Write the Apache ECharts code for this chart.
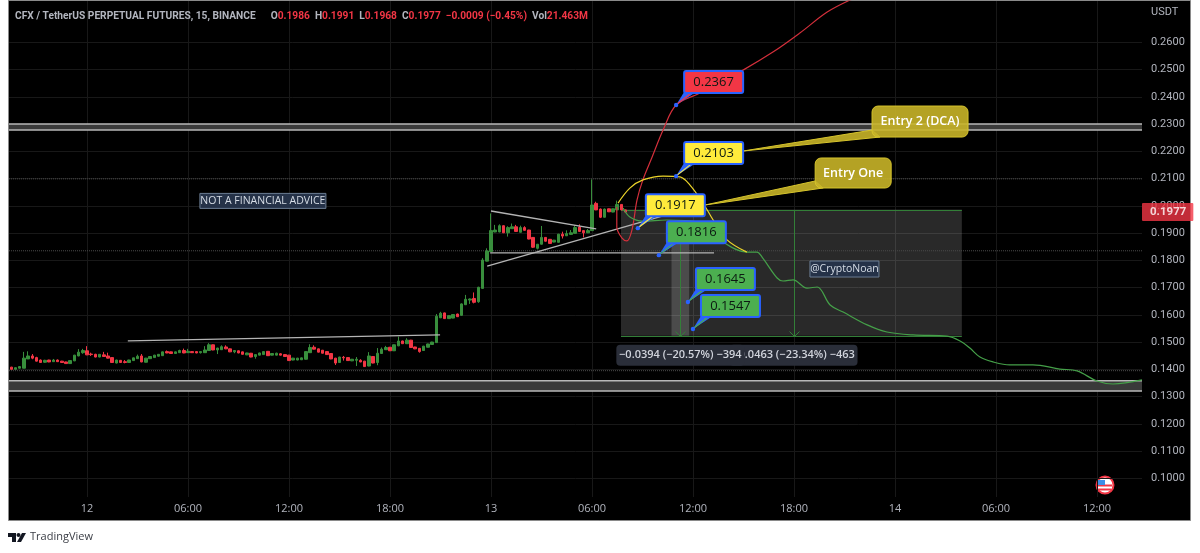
<!DOCTYPE html>
<html><head><meta charset="utf-8">
<style>html,body{margin:0;padding:0;background:#fff}#c{width:1200px;height:553px}</style>
<script src="https://cdn.jsdelivr.net/npm/echarts@6/dist/echarts.min.js"></script>
</head><body><div id="c"></div>
<script>
// x values are 15-minute bars counted from 12th 00:00
const firstBar = -18;
// [open, close, low, high]
const candles = [
[.1408,.1400,.1400,.1409],[.1400,.1406,.1400,.1407],[.1404,.1410,.1403,.1412],[.1404,.1441,.1404,.1464],[.1438,.1449,.1438,.1466],
[.1449,.1441,.1437,.1456],[.1443,.1430,.1429,.1446],[.1434,.1425,.1424,.1436],[.1426,.1433,.1424,.1435],[.1434,.1427,.1426,.1435],
[.1428,.1434,.1427,.1438],[.1434,.1428,.1427,.1436],[.1430,.1425,.1424,.1431],[.1427,.1421,.1420,.1428],[.1421,.1432,.1420,.1433],
[.1431,.1452,.1430,.1453],[.1449,.1463,.1448,.1474],[.1461,.1469,.1457,.1475],[.1468,.1453,.1452,.1485],[.1456,.1454,.1449,.1461],
[.1455,.1445,.1444,.1457],[.1445,.1455,.1444,.1456],[.1453,.1447,.1446,.1464],[.1449,.1441,.1440,.1461],[.1443,.1425,.1424,.1444],
[.1423,.1434,.1422,.1435],[.1433,.1425,.1424,.1434],[.1428,.1425,.1422,.1434],[.1425,.1434,.1424,.1435],[.1432,.1442,.1431,.1443],
[.1439,.1448,.1438,.1454],[.1449,.1427,.1426,.1456],[.1426,.1441,.1425,.1442],[.1439,.1447,.1438,.1448],[.1443,.1452,.1442,.1453],
[.1448,.1455,.1447,.1456],[.1450,.1464,.1449,.1465],[.1465,.1460,.1459,.1469],[.1464,.1458,.1457,.1465],[.1458,.1464,.1457,.1465],
[.1461,.1469,.1460,.1472],[.1469,.1460,.1459,.1476],[.1461,.1466,.1460,.1475],[.1465,.1461,.1460,.1466],[.1465,.1460,.1459,.1466],
[.1461,.1465,.1458,.1466],[.1461,.1471,.1460,.1485],[.1469,.1490,.1468,.1496],[.1490,.1471,.1470,.1491],[.1471,.1478,.1456,.1479],
[.1472,.1483,.1471,.1488],[.1482,.1475,.1474,.1488],[.1475,.1464,.1463,.1476],[.1464,.1469,.1459,.1470],[.1468,.1460,.1459,.1469],
[.1464,.1455,.1454,.1465],[.1453,.1460,.1452,.1461],[.1459,.1445,.1444,.1460],[.1447,.1454,.1439,.1455],[.1452,.1460,.1451,.1461],
[.1454,.1465,.1453,.1466],[.1466,.1450,.1449,.1467],[.1452,.1458,.1451,.1459],[.1452,.1459,.1451,.1461],[.1457,.1452,.1451,.1459],
[.1454,.1447,.1446,.1456],[.1452,.1432,.1431,.1453],[.1434,.1441,.1433,.1442],[.1434,.1441,.1433,.1442],[.1435,.1442,.1434,.1443],
[.1437,.1465,.1436,.1466],[.1461,.1480,.1460,.1492],[.1481,.1474,.1473,.1488],[.1475,.1463,.1462,.1476],[.1470,.1459,.1458,.1471],
[.1465,.1454,.1453,.1466],[.1458,.1438,.1437,.1459],[.1441,.1423,.1416,.1442],[.1425,.1445,.1424,.1446],[.1444,.1442,.1432,.1449],
[.1443,.1432,.1431,.1444],[.1431,.1437,.1430,.1438],[.1433,.1437,.1412,.1445],[.1433,.1427,.1426,.1437],[.1430,.1410,.1409,.1431],
[.1412,.1449,.1411,.1463],[.1447,.1423,.1422,.1448],[.1425,.1459,.1415,.1478],[.1458,.1474,.1457,.1480],[.1472,.1480,.1471,.1486],
[.1481,.1468,.1467,.1482],[.1468,.1490,.1467,.1491],[.1486,.1504,.1485,.1520],[.1504,.1494,.1493,.1505],[.1494,.1507,.1493,.1514],
[.1507,.1480,.1479,.1508],[.1482,.1475,.1474,.1483],[.1477,.1465,.1461,.1478],[.1469,.1485,.1468,.1486],[.1481,.1493,.1480,.1494],
[.1491,.1500,.1490,.1501],[.1498,.1595,.1497,.1603],[.1589,.1606,.1588,.1611],[.1607,.1586,.1585,.1608],[.1586,.1597,.1585,.1598],
[.1588,.1601,.1587,.1602],[.1603,.1593,.1592,.1604],[.1598,.1640,.1597,.1642],[.1637,.1657,.1636,.1673],[.1654,.1658,.1640,.1660],
[.1660,.1646,.1642,.1682],[.1648,.1701,.1644,.1703],[.1697,.1801,.1696,.1808],[.1797,.1834,.1796,.1844],[.1832,.1909,.1831,.1972],
[.1904,.1911,.1903,.1930],[.1904,.1927,.1903,.1932],[.1927,.1901,.1900,.1928],[.1901,.1920,.1887,.1925],[.1916,.1923,.1915,.1935],
[.1923,.1906,.1905,.1930],[.1903,.1920,.1902,.1927],[.1920,.1910,.1909,.1925],[.1911,.1878,.1877,.1912],[.1884,.1848,.1845,.1885],
[.1844,.1859,.1840,.1860],[.1859,.1884,.1858,.1926],[.1884,.1870,.1869,.1885],[.1877,.1862,.1861,.1878],[.1867,.1874,.1866,.1875],
[.1866,.1896,.1865,.1897],[.1896,.1889,.1880,.1905],[.1890,.1898,.1889,.1910],[.1895,.1901,.1894,.1911],[.1899,.1920,.1898,.1928],
[.1922,.1906,.1905,.1932],[.1909,.1901,.1884,.1910],[.1901,.1909,.1900,.1915],[.1909,.2003,.1908,.2097],[.2009,.1985,.1984,.2015],
[.1988,.1958,.1955,.1990],[.1958,.1988,.1957,.1990],[.1989,.1978,.1977,.1990],[.1977,.1989,.1976,.1990],[.1985,.2005,.1984,.2019],
[.2005,.1985,.1984,.2006],[.1985,.1977,.1975,.1986]
];
const xTickBars = [0,24,48,72,96,120,144,168,192,216,240];
const xTickLabels = ['12','06:00','12:00','18:00','13','06:00','12:00','18:00','14','06:00','12:00'];
const yTicks = [.26,.25,.24,.23,.22,.21,.20,.19,.18,.17,.16,.15,.14,.13,.12,.11,.10];
const lastPrice = .1977;

const redPath = [[125.9,.1996],[125.9,.1922],[127.1,.1882],[128.3,.1871],[129.5,.1911],[130.7,.2021],[132.1,.2095],[134.3,.2179],[136.9,.2278],[140,.2370],[145.7,.2414],[155.9,.2498],[163,.2564],[169.4,.2634],[175.9,.2711],[181.3,.2755],[186.1,.2785]];
const yellowPath = [[126.2,.2010],[129,.2065],[132.1,.2095],[136.9,.2109],[140.9,.2106],[143.3,.2076],[146.4,.2010],[148.8,.1948],[152.1,.1875],[156.8,.1830]];
const greenPath = [[127.4,.1992],[129,.1959],[132.1,.1944],[137.8,.1948],[145,.1941],[151.1,.1867],[156.8,.1830],[159.2,.1830],[160.6,.1808],[164,.1735],[165.4,.1724],[167.8,.1728],[171.1,.1698],[173.5,.1702],[176.6,.1636],[179.7,.1610],[185.4,.1563],[190.1,.1537],[196.3,.1526],[204.4,.1522],[207.5,.1504],[209.8,.1478],[212.2,.1445],[215.3,.1427],[219.3,.1416],[224.8,.1416],[231.2,.1401],[235.3,.1394],[240,.1357],[243.8,.1346],[250.7,.1361]];

const baseTrend = [[9.7,.1504],[83.9,.1526]];
const triangleTop = [[96,.1981],[121,.1915]];
const triangleBottom = [[95.1,.1779],[136.9,.1963]];
const supportLine = [[95.8,.1827],[149,.1827]];
const priceLines = [.2099,.1835,.1395];
const bands = [[.2300,.2278],[.1358,.1320]];

// [leftBar, rightBar, topPrice, bottomPrice, arrowBar, label]
const measures = [
  [126.9,207.9,.1986,.1523,167.9,'−0.0463 (−23.34%) −463'],
  [138.9,143.1,.1917,.1523,141,'−0.0394 (−20.57%) −394']
];
// [anchorBar, anchorPrice, text, fill]
const callouts = [
  [140,.2370,'0.2367','#f23645'],
  [140,.2109,'0.2103','#ffeb3b'],
  [130.9,.1918,'0.1917','#ffeb3b'],
  [135.9,.1819,'0.1816','#4caf50'],
  [142.8,.1647,'0.1645','#4caf50'],
  [144,.1548,'0.1547','#4caf50']
];
// [anchorBar, anchorPrice, text]
const entries = [[146.9,.2003,'Entry One'],[155.9,.2201,'Entry 2 (DCA)']];
// [centerBar, centerPrice, text]
const notes = [[41.8,.2018,'NOT A FINANCIAL ADVICE'],[180,.1768,'@CryptoNoan']];

const GREEN='#388e3c', RED='#f23645', FONT='"Open Sans", sans-serif', AXF='Roboto, sans-serif';
const xMin=-18.536,xMax=250.71,yMin=.09314,yMax=.27516;

function lineS(data,color,width,z,smooth,type){
  return {type:'line',data,symbol:'none',silent:true,z,smooth:smooth||false,animation:false,
    lineStyle:{color,width,type:type||'solid'}};
}
const snap=v=>Math.round(v)+.5;
function zoneItem(p,api){
  const a=api.coord([api.value(0),api.value(2)]), b=api.coord([api.value(1),api.value(3)]);
  const m=api.coord([api.value(4),api.value(3)]), t=api.coord([api.value(4),api.value(2)]);
  const mx=snap(m[0]),by=snap(m[1]),ty=snap(t[1]);
  const line=(x1,y1,x2,y2)=>({type:'line',shape:{x1,y1,x2,y2},style:{stroke:'#337f38',lineWidth:1}});
  return {type:'group',children:[
    {type:'rect',shape:{x:a[0],y:a[1],width:b[0]-a[0],height:b[1]-a[1]},style:{fill:'rgba(255,255,255,0.16)'}},
    line(a[0],ty,b[0],ty),line(a[0],by,b[0],by),line(mx,ty,mx,by),
    line(mx-5,by-5,mx,by),line(mx+5,by-5,mx,by)
  ]};
}
function measureLabelItem(p,api){
  const m=api.coord([api.value(4),api.value(3)]);
  const w=128,h=21,x=m[0]-w/2,y=m[1]+9;
  return {type:'group',children:[
    {type:'rect',shape:{x,y,width:w,height:h,r:4},style:{fill:'#2a2e39'}},
    {type:'text',style:{x:x+w/2,y:y+h/2,text:api.value(5),fill:'#d1d4dc',font:'600 11px '+FONT,align:'center',verticalAlign:'middle'}}
  ]};
}
function calloutItem(p,api){
  const c=api.coord([api.value(0),api.value(1)]), fill=api.value(3);
  const x=c[0]+8,y=c[1]-34,w=59,h=22;
  return {type:'group',children:[
    {type:'polygon',shape:{points:[[c[0],c[1]],[x,y+h-1],[x+12,y+h-1]]},style:{fill:'#2962ff'}},
    {type:'line',shape:{x1:c[0]+1,y1:c[1]-1,x2:x+7,y2:y+h},style:{stroke:fill,lineWidth:1.2}},
    {type:'circle',shape:{cx:c[0],cy:c[1],r:2.2},style:{fill:'#2962ff'}},
    {type:'rect',shape:{x,y,width:w,height:h,r:2},style:{fill,stroke:'#2962ff',lineWidth:2}},
    {type:'text',style:{x:x+w/2,y:y+h/2,text:api.value(2),fill:'#0c1a12',font:'500 13px '+FONT,align:'center',verticalAlign:'middle'}}
  ]};
}
function entryItem(p,api){
  const c=api.coord([api.value(0),api.value(1)]);
  const wide=p.dataIndex===1;
  const x=c[0]+(wide?129:110),y=c[1]+(wide?-45:-47),w=wide?96:76,h=wide?31:30;
  return {type:'group',children:[
    {type:'polygon',shape:{points:[[c[0],c[1]],[x,y+h-7],[x+8,y+h]]},style:{fill:'rgba(200,180,40,0.9)',stroke:'#d6c42c',lineWidth:1}},
    {type:'rect',shape:{x,y,width:w,height:h,r:6},style:{fill:'rgba(200,180,40,0.9)',stroke:'#d6c42c',lineWidth:1}},
    {type:'text',style:{x:x+w/2,y:y+h/2,text:api.value(2),fill:'#ffffff',font:'600 12.5px '+FONT,align:'center',verticalAlign:'middle'}}
  ]};
}
function noteItem(p,api){
  const c=api.coord([api.value(0),api.value(1)]);
  const big=p.dataIndex===0;
  const w=big?126:69,h=big?15:16;
  return {type:'group',children:[
    {type:'rect',shape:{x:c[0]-w/2,y:c[1]-h/2,width:w,height:h},style:{fill:'#253248',stroke:'#6b7d93',lineWidth:1}},
    {type:'text',style:{x:c[0],y:c[1],text:api.value(2),fill:'#d6dde6',font:'10.5px '+FONT,align:'center',verticalAlign:'middle'}}
  ]};
}
function customS(data,renderItem,z){
  return {type:'custom',data,renderItem,z,silent:true,animation:false,clip:false,
    encode:{x:0,y:1}};
}

const series=[
  ...priceLines.map(v=>lineS([[xMin,v],[xMax,v]],'#4a4a4a',1,1,false,'dotted')),
  {type:'custom',data:bands,z:1,silent:true,animation:false,encode:{y:[0,1]},renderItem(p,api){
    const a=api.coord([xMin,api.value(0)]),b=api.coord([xMax,api.value(1)]);
    return {type:'group',children:[
      {type:'rect',shape:{x:a[0],y:a[1],width:b[0]-a[0],height:b[1]-a[1]},style:{fill:'#3a3a3a'}},
      {type:'line',shape:{x1:a[0],y1:a[1],x2:b[0],y2:a[1]},style:{stroke:'#b8b8b8',lineWidth:1.5}},
      {type:'line',shape:{x1:a[0],y1:b[1],x2:b[0],y2:b[1]},style:{stroke:'#b8b8b8',lineWidth:1.5}}
    ]};
  }},
  customS(measures,zoneItem,1),
  {type:'candlestick',z:2,silent:true,animation:false,barWidth:3,
    data:candles.map((c,i)=>[firstBar+i,c[0],c[1],c[2],c[3]]),
    encode:{x:0,y:[1,2,3,4]},
    itemStyle:{color:GREEN,color0:RED,borderColor:GREEN,borderColor0:RED,borderWidth:1}},
  ...[baseTrend,triangleTop,triangleBottom,supportLine].map(d=>lineS(d,'#b4b4b4',1.3,3)),
  lineS(redPath,'#d42f3b',1.2,4,.35),
  lineS(greenPath,'#45a049',1.2,4,.35),
  lineS(yellowPath,'#ecd42a',1.2,4,.35),
  customS(notes,noteItem,5),
  customS(measures,measureLabelItem,5),
  customS(entries,entryItem,5),
  customS(callouts,calloutItem,6),
  {type:'scatter',z:7,silent:true,animation:false,symbolSize:0,clip:false,data:[[xMax,lastPrice]],
    label:{show:true,position:'right',distance:0,formatter:()=>lastPrice.toFixed(4),color:'#fff',fontFamily:AXF,fontWeight:700,fontSize:11.5,
      backgroundColor:RED,padding:[3,7,3,8],borderRadius:1}}
];

const chart=echarts.init(document.getElementById('c'),null,{renderer:'canvas'});
const hdr='#b2b5be';
chart.setOption({
  animation:false,backgroundColor:'#fff',
  grid:{left:9,top:1,width:1133,height:496,containLabel:false},
  title:{left:15,top:7,padding:0,text:'{a|CFX / TetherUS PERPETUAL FUTURES, 15, BINANCE}   {a|O}{r|0.1986} {a|H}{r|0.1991} {a|L}{r|0.1968} {a|C}{r|0.1977} {r|−0.0009 (−0.45%)} {a|Vol}{r|21.463M}',
    textStyle:{rich:{a:{color:hdr,fontSize:10.2,fontFamily:AXF},r:{color:RED,fontSize:10.2,fontFamily:AXF}}}},
  xAxis:{type:'value',min:xMin,max:xMax,scale:true,
    axisLine:{show:false},axisTick:{show:false,customValues:xTickBars},
    splitLine:{show:true,lineStyle:{color:'#181818',width:1}},
    axisLabel:{customValues:xTickBars,color:'#b2b5be',fontFamily:FONT,fontSize:11,margin:6,
      formatter:v=>xTickLabels[xTickBars.indexOf(Math.round(v))]}},
  yAxis:{type:'value',position:'right',min:yMin,max:yMax,scale:true,
    axisLine:{show:false},axisTick:{show:false,customValues:yTicks},
    splitLine:{show:true,lineStyle:{color:'#181818',width:1}},
    axisLabel:{customValues:yTicks,color:'#b2b5be',fontFamily:AXF,fontSize:11,margin:9,formatter:v=>v.toFixed(4)}},
  graphic:[
    {type:'rect',z:-10,silent:true,shape:{x:8.5,y:0.5,width:1182,height:520},style:{fill:'#000',stroke:'#8a8a8a',lineWidth:1}},
    {type:'text',z:10,silent:true,style:{x:1151,y:7,text:'USDT',fill:hdr,font:'11px '+AXF}},
    {type:'group',z:10,silent:true,children:[
      {type:'circle',shape:{cx:1105,cy:485,r:8.5},style:{fill:'#fff',stroke:'#f23645',lineWidth:2}},
      {type:'rect',shape:{x:1099,y:488.5,width:12,height:2},style:{fill:'#f23645'}},
      {type:'rect',shape:{x:1098,y:484.5,width:14,height:2},style:{fill:'#f23645'}},
      {type:'rect',shape:{x:1098,y:480,width:7,height:5},style:{fill:'#3d8fe8'}}
    ]},
    {type:'group',silent:true,children:[
      {type:'polygon',shape:{points:[[8,533],[16,533],[16,542],[12,542],[12,537],[8,537]]},style:{fill:'#131722'}},
      {type:'circle',shape:{cx:18.5,cy:535,r:2},style:{fill:'#131722'}},
      {type:'polygon',shape:{points:[[22,533],[26,533],[21,542],[17,542]]},style:{fill:'#131722'}},
      {type:'text',style:{x:30,y:531,text:'TradingView',fill:'#3a3d45',font:'11px '+FONT}}
    ]}
  ],
  series
});
</script></body></html>
